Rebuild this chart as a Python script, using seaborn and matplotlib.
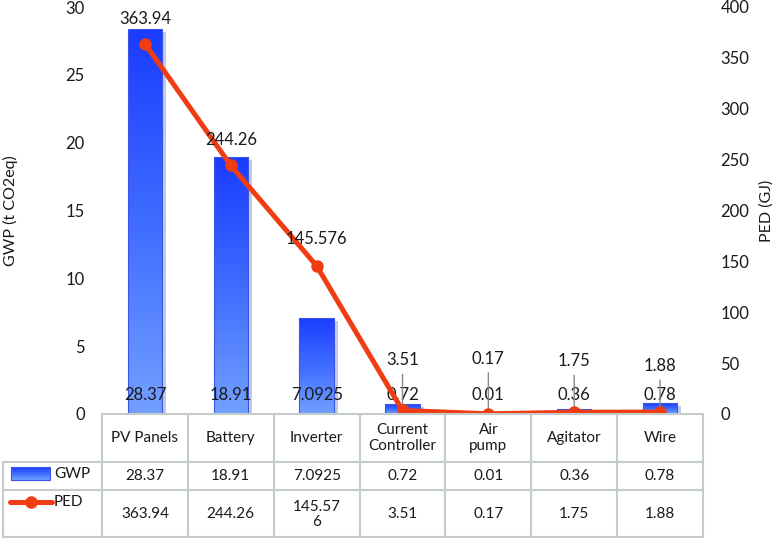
import numpy as np
import pandas as pd
import matplotlib
matplotlib.use("Agg")
import matplotlib.pyplot as plt
import matplotlib.transforms as mtransforms
from matplotlib.colors import LinearSegmentedColormap
from matplotlib.patches import Rectangle
from matplotlib.lines import Line2D
import seaborn as sns

# ---- data ----
categories = ["PV Panels", "Battery", "Inverter", "Current Controller", "Air pump", "Agitator", "Wire"]
header_labels = ["PV Panels", "Battery", "Inverter", "Current\nController", "Air\npump", "Agitator", "Wire"]
gwp = [28.37, 18.91, 7.0925, 0.72, 0.01, 0.36, 0.78]
ped = [363.94, 244.26, 145.576, 3.51, 0.17, 1.75, 1.88]
gwp_text = ["28.37", "18.91", "7.0925", "0.72", "0.01", "0.36", "0.78"]
ped_text = ["363.94", "244.26", "145.576", "3.51", "0.17", "1.75", "1.88"]
ped_table_text = ["363.94", "244.26", "145.57\n6", "3.51", "0.17", "1.75", "1.88"]
left_ticks = [0, 5, 10, 15, 20, 25, 30]
right_ticks = [0, 50, 100, 150, 200, 250, 300, 350, 400]

# ---- layout/style ----
W, H = 776, 539
FONT = ["Lato", "DejaVu Sans"]
TXT = "#1a1a1a"
LINE_C = "#f03c12"
GRID_C = "#c3cbcb"
ped_label_offsets = [25, 25, 27, 50, 55, 51, 46]   # px above point
leader = [False, False, False, True, True, True, True]

sns.set_theme(style="white")
plt.rcParams["font.family"] = FONT

fig = plt.figure(figsize=(W / 100, H / 100), dpi=100)
ax_l, ax_r, ax_t, ax_b = 102, 703, 7, 414
ax = fig.add_axes([ax_l / W, 1 - ax_b / H, (ax_r - ax_l) / W, (ax_b - ax_t) / H])

df = pd.DataFrame({"cat": categories, "gwp": gwp})
sns.barplot(data=df, x="cat", y="gwp", ax=ax, width=0.4, color="#3050ff",
            order=categories, zorder=2)

cmap = LinearSegmentedColormap.from_list("bar", ["#1a3cff", "#3f6cff", "#72a0ff"])
grad = np.linspace(1, 0, 256).reshape(-1, 1)   # row 0 = light (bottom)
for p in list(ax.patches):
    x0, y0 = p.get_x(), p.get_y()
    w, h = p.get_width(), p.get_height()
    sh_tr = ax.transData + mtransforms.ScaledTranslation(4 / 100, -3 / 100, fig.dpi_scale_trans)
    ax.add_patch(Rectangle((x0, y0), w, h, transform=sh_tr, facecolor="#b3c0da",
                           edgecolor="none", alpha=0.8, zorder=1))
    im = ax.imshow(grad, extent=[x0, x0 + w, y0, y0 + h], aspect="auto", cmap=cmap,
                   vmin=0, vmax=1, zorder=2.5, origin="lower")
    im.set_clip_path(p)
    p.set_facecolor("none")
    p.set_edgecolor("#3d55e6")
    p.set_linewidth(0.8)
    p.set_zorder(2.6)

ax.set_xlim(-0.5, len(categories) - 0.5)
ax.set_ylim(0, 30)
ax.set_yticks(left_ticks)
ax.set_yticklabels([str(t) for t in left_ticks], fontsize=12, color=TXT)
ax.tick_params(axis="y", length=0, pad=12.5)
ax.set_xticks([])
ax.set_xlabel("")
ax.set_ylabel("GWP (t CO2eq)", fontsize=11.5, color=TXT)
ax.yaxis.set_label_coords((18 - ax_l) / (ax_r - ax_l), 0.5)
for s in ax.spines.values():
    s.set_visible(False)

for i, t in enumerate(gwp_text):
    ax.annotate(t, (i, 0), xytext=(0, 19), textcoords="offset pixels",
                ha="center", va="center", fontsize=12, color=TXT, zorder=5)

ax2 = ax.twinx()
xs = np.arange(len(categories))
sns.lineplot(x=xs, y=ped, ax=ax2, color=LINE_C, linewidth=3.6, marker="o",
             markersize=9, markeredgewidth=0, zorder=4)
ax2.set_ylim(0, 400)
ax2.set_xlim(-0.5, len(categories) - 0.5)
ax2.set_yticks(right_ticks)
ax2.set_yticklabels([str(t) for t in right_ticks], fontsize=12, color=TXT)
ax2.tick_params(axis="y", length=0, pad=12.5)
ax2.set_ylabel("PED (GJ)", fontsize=11.5, color=TXT, rotation=90)
ax2.yaxis.set_label_coords((759 - ax_l) / (ax_r - ax_l), 0.5)
for s in ax2.spines.values():
    s.set_visible(False)
ax2.grid(False)
ax.grid(False)

for i, (t, v) in enumerate(zip(ped_text, ped)):
    off = ped_label_offsets[i]
    ax2.annotate(t, (i, v), xytext=(0, off), textcoords="offset pixels",
                 ha="center", va="center", fontsize=12, color=TXT, zorder=6)
    if leader[i]:
        ax2.annotate("", (i, v), xytext=(0, off - 14), textcoords="offset pixels",
                     arrowprops=dict(arrowstyle="-", color="#7f8b8b", lw=1,
                                     shrinkA=0, shrinkB=0), zorder=3)

# ---- data table ----
def fx(x):
    return x / W

def fy(y):
    return 1 - y / H

col_edges = [ax_l + i * (ax_r - ax_l) / len(categories) for i in range(len(categories) + 1)]
centers = [(col_edges[i] + col_edges[i + 1]) / 2 for i in range(len(categories))]
r0, r1, r2, r3 = 414, 462, 490, 537
leg_l = 3

def hline(y, x0, x1):
    fig.add_artist(Line2D([fx(x0), fx(x1)], [fy(y), fy(y)], color=GRID_C, lw=1.5))

def vline(x, y0, y1):
    fig.add_artist(Line2D([fx(x), fx(x)], [fy(y0), fy(y1)], color=GRID_C, lw=1.5))

hline(r0, ax_l, ax_r)
for y in (r1, r2, r3):
    hline(y, leg_l, ax_r)
vline(leg_l, r1, r3)
for x in col_edges:
    vline(x, r0, r3)

for i in range(len(categories)):
    fig.text(fx(centers[i]), fy((r0 + r1) / 2), header_labels[i], ha="center", va="center",
             fontsize=11, color=TXT, linespacing=1.15)
    fig.text(fx(centers[i]), fy((r1 + r2) / 2), gwp_text[i], ha="center", va="center",
             fontsize=11, color=TXT)
    fig.text(fx(centers[i]), fy((r2 + r3) / 2 + 1), ped_table_text[i], ha="center", va="center",
             fontsize=11, color=TXT, linespacing=1.15)

# legend keys inside the table
lax = fig.add_axes([0, 0, 1, 1], facecolor="none")
lax.imshow(grad, extent=[11, 50, 480, 467], aspect="auto", cmap=cmap, vmin=0, vmax=1,
           origin="lower")
lax.add_patch(Rectangle((11, 467), 39, 13, facecolor="none", edgecolor="#3d55e6", lw=0.8))
lax.set_xlim(0, W)
lax.set_ylim(H, 0)
lax.axis("off")
lax.text(54, 474, "GWP", ha="left", va="center", fontsize=11, color=TXT)
lax.plot([10, 52], [502, 502], color=LINE_C, lw=3.6, solid_capstyle="round")
lax.plot([31], [502], "o", color=LINE_C, markersize=9, markeredgewidth=0)
lax.text(54, 502, "PED", ha="left", va="center", fontsize=11, color=TXT)

fig.savefig("out.png", dpi=100)
